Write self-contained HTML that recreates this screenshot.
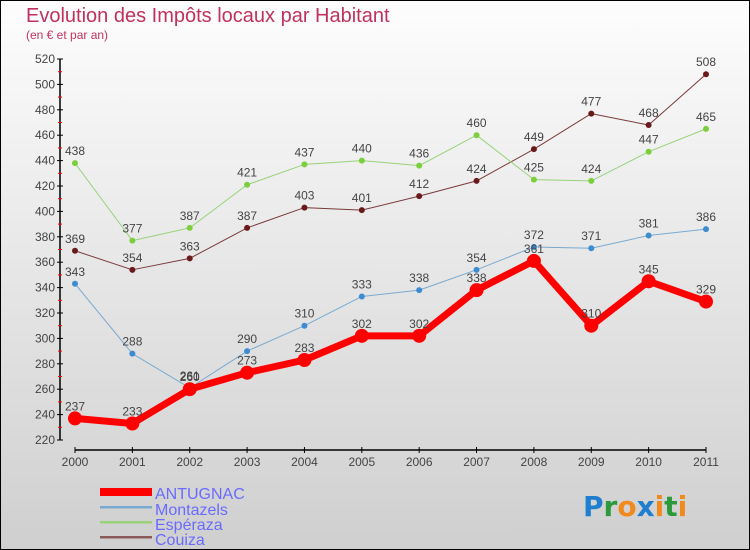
<!DOCTYPE html>
<html><head><meta charset="utf-8"><style>
body{margin:0}
svg{display:block;font-family:"Liberation Sans",sans-serif}
</style></head><body>
<svg width="750" height="550">
<defs><linearGradient id="bg" x1="0" y1="0" x2="0" y2="1"><stop offset="0" stop-color="#fdfdfd"/><stop offset="1" stop-color="#cfcfcf"/></linearGradient></defs>
<rect x="0.5" y="0.5" width="749" height="549" fill="url(#bg)" stroke="#000"/>
<text x="26" y="22" font-size="20" fill="#c0325e">Evolution des Impôts locaux par Habitant</text>
<text x="26" y="39" font-size="12" fill="#c0325e">(en € et par an)</text>
<g id="axes"></g>
<g id="series"></g>
<g>
<rect x="100" y="488" width="52" height="8" fill="#f00"/>
<text x="155" y="499" font-size="16" fill="#6a6aff">ANTUGNAC</text>
<rect x="100" y="506" width="52" height="2.5" fill="#7aa9cf"/>
<text x="155" y="515" font-size="16" fill="#6a6aff">Montazels</text>
<rect x="100" y="521" width="52" height="2.5" fill="#99d27a"/>
<text x="155" y="530" font-size="16" fill="#6a6aff">Espéraza</text>
<rect x="100" y="536" width="52" height="2.5" fill="#8a5a5a"/>
<text x="155" y="545" font-size="16" fill="#6a6aff">Couiza</text>
</g>
<g font-size="28" font-weight="bold" font-family="'DejaVu Sans',sans-serif">
<text x="583" y="516"><tspan fill="#1e7fd0">P</tspan><tspan fill="#2a9a3a">r</tspan><tspan fill="#f08a1c">o</tspan><tspan fill="#1e7fd0">x</tspan><tspan fill="#f08a1c">i</tspan><tspan fill="#2a9a3a">t</tspan><tspan fill="#f08a1c">i</tspan></text>
</g>
</svg>
<script>
const years=["2000","2001","2002","2003","2004","2005","2006","2007","2008","2009","2010","2011"];
const antugnac=[237,233,260,273,283,302,302,338,361,310,345,329];
const montazels=[343,288,261,290,310,333,338,354,372,371,381,386];
const esperaza=[438,377,387,421,437,440,436,460,425,424,447,465];
const couiza=[369,354,363,387,403,401,412,424,449,477,468,508];
const yTicks=[220,240,260,280,300,320,340,360,380,400,420,440,460,480,500,520];
const NS="http://www.w3.org/2000/svg";
const x=i=>75+i*(706-75)/11;
const y=v=>440-(v-220)*(440-59)/300;
function mk(tag,attrs,parent){const e=document.createElementNS(NS,tag);for(const k in attrs)e.setAttribute(k,attrs[k]);parent.appendChild(e);return e;}
const ax=document.getElementById('axes');
let l=mk('line',{x1:60,y1:y(520),x2:60,y2:y(220),stroke:'#000','stroke-width':1.5},ax);


yTicks.forEach((v,i)=>{
  mk('line',{x1:57,x2:63,y1:y(v),y2:y(v),stroke:'#000'},ax);
  if(i<yTicks.length-1) mk('line',{x1:58,x2:62,y1:y(v+10),y2:y(v+10),stroke:'#f00'},ax);
  const t=mk('text',{x:55,y:y(v)+4,'text-anchor':'end','font-size':12,fill:'#444'},ax);
  t.textContent=v;
  
  
});
l=mk('line',{x1:x(0),y1:450,x2:x(11),y2:450,stroke:'#000','stroke-width':1.5},ax);


years.forEach((yr,i)=>{
  mk('line',{x1:x(i),x2:x(i),y1:447,y2:453,stroke:'#000'},ax);
  const t=mk('text',{x:x(i),y:466,'text-anchor':'middle','font-size':12,fill:'#444'},ax);
  t.textContent=yr;
  
  
});
const sg=document.getElementById('series');
function series(vals,color,dot,w,r,name){
  const g=mk('g',{},sg);
  
  
  const p=mk('polyline',{points:vals.map((v,i)=>x(i)+','+y(v)).join(' '),fill:'none',stroke:color,'stroke-width':w,'stroke-linejoin':'round'},g);
  
  
  vals.forEach((v,i)=>{
    const c=mk('circle',{cx:x(i),cy:y(v),r:r,fill:dot},g);
    
    
    const t=mk('text',{x:x(i),y:y(v)-8,'text-anchor':'middle','font-size':12,fill:'#444'},g);
    t.textContent=v;
    
    
  });
}
series(couiza,'#7a3a3a','#6a1a1a',1,3,'couiza');
series(esperaza,'#99d27a','#7ccf3c',1,3,'esperaza');
series(montazels,'#7aa9cf','#3d8cd0',1,3,'montazels');
series(antugnac,'#f00','#f00',7,7,'antugnac');
</script>
</body></html>
